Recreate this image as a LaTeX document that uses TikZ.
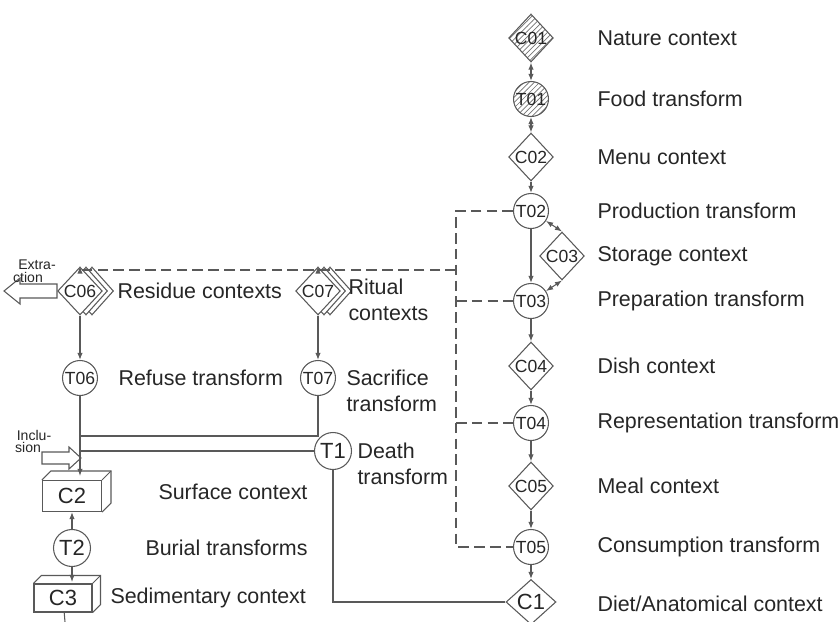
\documentclass[tikz,border=0pt]{standalone}
\usepackage{fontspec}
\setmainfont{Liberation Sans}
\usetikzlibrary{shapes.geometric,patterns,arrows.meta}

\colorlet{linegray}{black!65}
\colorlet{textgray}{black!85}

\begin{document}
\begin{tikzpicture}[x=0.02cm,y=-0.02cm,
		color=linegray, line width=0.6pt,
		every node/.style={text=textgray, inner sep=0pt},
		ctx/.style={diamond, draw, fill=white, minimum width=0.86cm,
				minimum height=0.96cm, font=\fontsize{10}{11}\selectfont},
		trf/.style={circle, draw, fill=white, minimum size=0.7cm,
				font=\fontsize{10}{11}\selectfont},
		big/.style={font=\fontsize{12.5}{13}\selectfont},
		hatch/.style={pattern=north east lines, pattern color=black!55},
		crate/.style={draw, fill=white, font=\fontsize{12.5}{13}\selectfont},
		lbl/.style={anchor=west, align=left, font=\fontsize{12.2}{14.7}\selectfont},
		tiny/.style={font=\fontsize{8}{9}\selectfont},
		arr/.style={-{Latex[length=4pt,width=3pt]}},
		darr/.style={{Latex[length=4pt,width=3pt]}-{Latex[length=4pt,width=3pt]}},
		dline/.style={dash pattern=on 6pt off 3pt} ]

	\useasboundingbox (0,0) rectangle (839,622);

	% main chain
	\node[ctx, hatch] (C01) at (531,38) {C01};
	\node[trf, hatch] (T01) at (531,99) {T01};
	\node[ctx] (C02) at (531,157) {C02};
	\node[trf] (T02) at (531,211) {T02};
	\node[ctx] (C03) at (562,256) {C03};
	\node[trf] (T03) at (531,301) {T03};
	\node[ctx] (C04) at (531,366) {C04};
	\node[trf] (T04) at (531,423) {T04};
	\node[ctx] (C05) at (531,486) {C05};
	\node[trf] (T05) at (531,547) {T05};
	\node[ctx, big, minimum width=1cm, minimum height=0.9cm] (C1) at (531,602) {C1};

	\node[lbl] (l01) at (597,38) {Nature context};
	\node[lbl] (l02) at (597,99) {Food transform};
	\node[lbl] (l03) at (597,157) {Menu context};
	\node[lbl] (l04) at (597,211) {Production transform};
	\node[lbl] (l05) at (597,256) {Storage context};
	\node[lbl] (l06) at (597,301) {Preparation transform};
	\node[lbl] (l07) at (597,366) {Dish context};
	\node[lbl] (l08) at (597,423) {Representation transform};
	\node[lbl] (l09) at (597,486) {Meal context};
	\node[lbl] (l10) at (597,547) {Consumption transform};
	\node[lbl] (l11) at (597,604) {Diet/Anatomical context};

	% side branches
	\node[ctx] (C06c) at (92,291) {};
	\node[ctx] (C06b) at (86,291) {};
	\node[ctx] (C06) at (80,291) {C06};
	\node[ctx] (C07c) at (330,291) {};
	\node[ctx] (C07b) at (324,291) {};
	\node[ctx] (C07) at (318,291) {C07};
	\node[trf] (T06) at (80,378) {T06};
	\node[trf] (T07) at (318,378) {T07};
	\node[trf, big, minimum size=0.74cm] (T1) at (333,451) {T1};

	\node[lbl] (l12) at (117,291) {Residue contexts};
	\node[lbl] (l13) at (348,300) {Ritual\\contexts};
	\node[lbl] (l14) at (118,378) {Refuse transform};
	\node[lbl] (l15) at (346,391) {Sacrifice\\transform};
	\node[lbl] (l16) at (357,464) {Death\\transform};

	% hollow arrows
	\draw[fill=white] (4,291) -- (20,278) -- (20,284) -- (57,284) -- (57,298)
		-- (20,298) -- (20,304) -- cycle;
	\node[tiny] (ex1) at (37,265) {Extra-};
	\node[tiny] (ex2) at (28,277) {ction};
	\draw[fill=white] (81,458) -- (69,447) -- (69,452) -- (42,452) -- (42,464)
		-- (69,464) -- (69,469) -- cycle;
	\node[tiny] (in1) at (34,435) {Inclu-};
	\node[tiny] (in2) at (28,447) {sion};

	% burial
	\node[crate, minimum width=1.18cm, minimum height=0.62cm] (C2) at (72,496) {C2};
	\draw (C2.north west) -- ++(9,-9) -- ([shift={(9,-9)}]C2.north east)
		-- ([shift={(9,-9)}]C2.south east) -- (C2.south east);
	\draw (C2.north east) -- ++(9,-9);
	\node[trf, big, minimum size=0.74cm] (T2) at (72,548) {T2};
	\node[crate, minimum width=1.16cm, minimum height=0.56cm] (C3) at (63,598) {C3};
	\draw (C3.north west) -- ++(8,-8) -- ([shift={(8,-8)}]C3.north east)
		-- ([shift={(8,-8)}]C3.south east) -- (C3.south east);
	\draw (C3.north east) -- ++(8,-8);

	\node[lbl] (l17) at (158,492) {Surface context};
	\node[lbl] (l18) at (145,548) {Burial transforms};
	\node[lbl] (l19) at (110,598) {Sedimentary context};

	\coordinate (c2top) at (80,476);
	\coordinate (c3top) at (72,582);
	\coordinate (c3out) at (65,622);
	\coordinate (j1) at (80,436);
	\coordinate (j2) at (80,451);

	\coordinate (dA) at (456,211);
	\coordinate (dB) at (456,301);
	\coordinate (dC) at (456,270);
	\coordinate (dD) at (456,423);
	\coordinate (dE) at (456,547);
	\coordinate (dF) at (318,270);

	\draw[darr] (C01) -- (T01);
	\draw[darr] (T01) -- (C02);
	\draw[arr] (C02) -- (T02);
	\draw[arr] (T02) -- (T03);
	\draw[darr] (T02) -- (C03.north);
	\draw[darr] (C03.south) -- (T03);
	\draw[arr] (T03) -- (C04);
	\draw[arr] (C04) -- (T04);
	\draw[arr] (T04) -- (C05);
	\draw[arr] (C05) -- (T05);
	\draw[arr] (T05) -- (C1);

	\draw[dline] (T02) -- (dA) -- (dE) -- (T05);
	\draw[dline] (dB) -- (T03);
	\draw[dline] (dD) -- (T04);
	\draw[dline, arr] (dC) -| (C06);
	\draw[dline, arr] (dF) -- (C07);

	\draw[arr] (C06) -- (T06);
	\draw[arr] (C07) -- (T07);
	\draw[arr] (T06) -- (c2top);
	\draw (T07) |- (j1);
	\draw (T1) -- (j2);
	\draw (T1) |- (C1);
	\draw[arr] (T2) -- (C2);
	\draw[arr] (T2) -- (c3top);
	\draw (C3) -- (c3out);
\end{tikzpicture}
\end{document}
